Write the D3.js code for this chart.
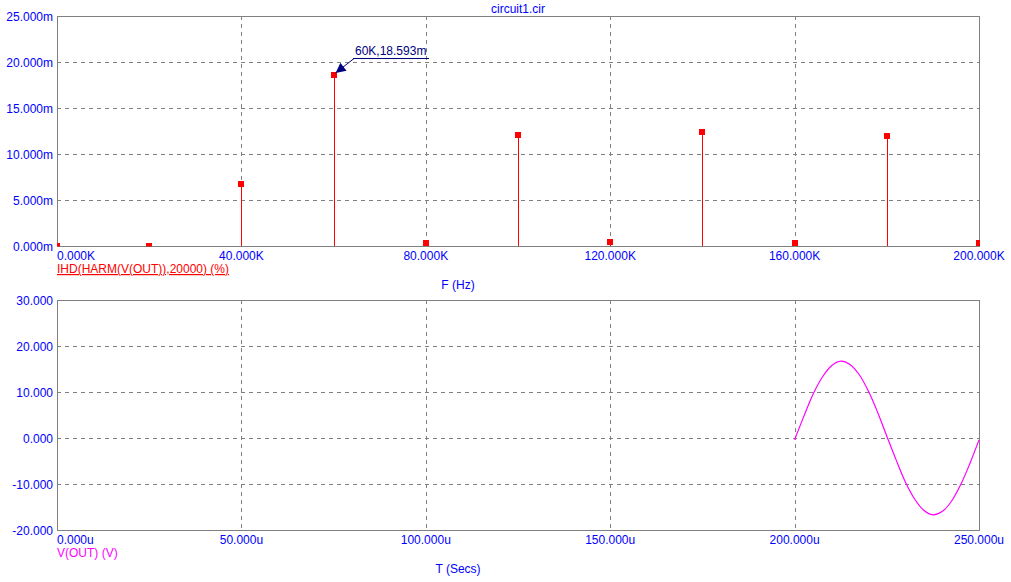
<!DOCTYPE html>
<html>
<head>
<meta charset="utf-8">
<script src="https://cdn.jsdelivr.net/npm/d3@7"></script>
<style>
  body { margin: 0; background: #fff; }
  svg text { font-family: "Liberation Sans", Arial, sans-serif; font-size: 12px; }
</style>
</head>
<body>
<svg id="chart" width="1011" height="582"></svg>
<script>
// harmonic distortion spectrum (kHz, m%)
const harmFreq = [0, 20, 40, 60, 80, 100, 120, 140, 160, 180, 200];
const harmIhd = [0.0, 0.0, 6.75, 18.593, 0.33, 12.05, 0.43, 12.4, 0.33, 11.95, 0.3];
const freqTicks = [0, 40, 80, 120, 160, 200];
const ihdTicks = [0, 5, 10, 15, 20, 25];

// transient output (us, V)
const timeVals = [200, 202.5, 205, 207.5, 210, 212.5, 215, 217.5, 220, 222.5, 225,
  227.5, 230, 232.5, 235, 237.5, 240, 242.5, 245, 247.5, 250];
const voutVals = [-0.4, 4.7, 9.5, 13.2, 15.7, 16.7, 16.0, 13.8, 10.2, 5.6, 0.4,
  -4.7, -9.5, -13.2, -15.7, -16.7, -16.0, -13.8, -10.2, -5.6, -0.4];
const timeTicks = [0, 50, 100, 150, 200, 250];
const voutTicks = [-20, -10, 0, 10, 20, 30];

const svg = d3.select("#chart");
const left = 57, right = 979;
const gray = "#808080", blue = "#0000ff", navy = "#000080";

function panel(top, bottom, xDomain, yDomain, xTicks, yTicks, xFmt, yFmt) {
  const x = d3.scaleLinear().domain(xDomain).range([left, right]);
  const y = d3.scaleLinear().domain(yDomain).range([bottom, top]);
  const g = svg.append("g");

  // grid
  g.append("g").selectAll("line")
    .data(yTicks.slice(1, -1))
    .join("line")
    .attr("x1", left).attr("x2", right)
    .attr("y1", d => Math.round(y(d)) + 0.5).attr("y2", d => Math.round(y(d)) + 0.5)
    .attr("stroke", gray).attr("stroke-dasharray", "4,4");
  g.append("g").selectAll("line")
    .data(xTicks.slice(1, -1))
    .join("line")
    .attr("x1", d => Math.round(x(d)) + 0.5).attr("x2", d => Math.round(x(d)) + 0.5)
    .attr("y1", top).attr("y2", bottom)
    .attr("stroke", gray).attr("stroke-dasharray", "4,4");

  // frame
  g.append("rect")
    .attr("x", left + 0.5).attr("y", top + 0.5)
    .attr("width", right - left).attr("height", bottom - top)
    .attr("fill", "none").attr("stroke", gray);

  // y labels
  g.append("g").selectAll("text")
    .data(yTicks)
    .join("text")
    .attr("x", 53).attr("y", d => y(d) + 4.5)
    .attr("text-anchor", "end").attr("fill", blue)
    .text(yFmt);

  // x labels
  g.append("g").selectAll("text")
    .data(xTicks)
    .join("text")
    .attr("x", (d, i) => i === 0 ? left : x(d))
    .attr("y", bottom + 14)
    .attr("text-anchor", (d, i) => i === 0 ? "start" : "middle")
    .attr("fill", blue)
    .text(xFmt);

  return {x, y, g};
}

// title
svg.append("text").attr("x", 518).attr("y", 13)
  .attr("text-anchor", "middle").attr("fill", blue).text("circuit1.cir");

// top: IHD spectrum
const p1 = panel(16, 246, [0, 200], [0, 25], freqTicks, ihdTicks,
  d => d3.format(".3f")(d) + "K", d => d3.format(".3f")(d) + "m");

const clip = svg.append("clipPath").attr("id", "clip1").append("rect")
  .attr("x", left).attr("y", 16).attr("width", right - left + 1).attr("height", 230.5);

const marks = svg.append("g").attr("clip-path", "url(#clip1)");
marks.selectAll("line")
  .data(harmFreq.map((f, i) => [f, harmIhd[i]]))
  .join("line")
  .attr("x1", d => Math.round(p1.x(d[0])) + 0.5).attr("x2", d => Math.round(p1.x(d[0])) + 0.5)
  .attr("y1", p1.y(0)).attr("y2", d => p1.y(d[1]))
  .attr("stroke", "#ff0000");
marks.selectAll("rect")
  .data(harmFreq.map((f, i) => [f, harmIhd[i]]))
  .join("rect")
  .attr("x", d => Math.round(p1.x(d[0])) - 3).attr("y", d => Math.round(p1.y(d[1])) - 3)
  .attr("width", 6).attr("height", 6)
  .attr("fill", "#ff0000");

// annotation at 60K peak
const ax = p1.x(60), ay = p1.y(18.593);
svg.append("defs").append("marker")
  .attr("id", "arrow").attr("viewBox", "0 0 10 10")
  .attr("refX", 10).attr("refY", 5)
  .attr("markerWidth", 12).attr("markerHeight", 10)
  .attr("markerUnits", "userSpaceOnUse")
  .attr("orient", "auto")
  .append("path").attr("d", "M0,0L10,5L0,10Z").attr("fill", navy);
svg.append("line")
  .attr("x1", 354).attr("y1", 58.5).attr("x2", ax + 2).attr("y2", ay - 2)
  .attr("stroke", navy).attr("marker-end", "url(#arrow)");
svg.append("line")
  .attr("x1", 353).attr("y1", 58.5).attr("x2", 429).attr("y2", 58.5)
  .attr("stroke", navy);
svg.append("text").attr("x", 355).attr("y", 55)
  .attr("fill", navy).text("60K," + d3.format(".3f")(harmIhd[3]) + "m");

// top legend + axis title
svg.append("text").attr("x", left).attr("y", 273)
  .attr("fill", "#ff0000").attr("text-decoration", "underline")
  .text("IHD(HARM(V(OUT)),20000) (%)");
svg.append("text").attr("x", 458).attr("y", 289)
  .attr("text-anchor", "middle").attr("fill", blue).text("F (Hz)");

// bottom: V(OUT) transient
const p2 = panel(300, 530, [0, 250], [-20, 30], timeTicks, voutTicks,
  d => d3.format(".3f")(d) + "u", d => d3.format(".3f")(d).replace("−", "-"));

const line = d3.line()
  .x((d, i) => p2.x(timeVals[i]))
  .y(d => p2.y(d))
  .curve(d3.curveCatmullRom);
svg.append("path")
  .attr("d", line(voutVals))
  .attr("fill", "none").attr("stroke", "#ff00ff").attr("stroke-width", 1.2);

svg.append("text").attr("x", left).attr("y", 557)
  .attr("fill", "#ff00ff").text("V(OUT) (V)");
svg.append("text").attr("x", 458).attr("y", 573)
  .attr("text-anchor", "middle").attr("fill", blue).text("T (Secs)");
</script>
</body>
</html>
